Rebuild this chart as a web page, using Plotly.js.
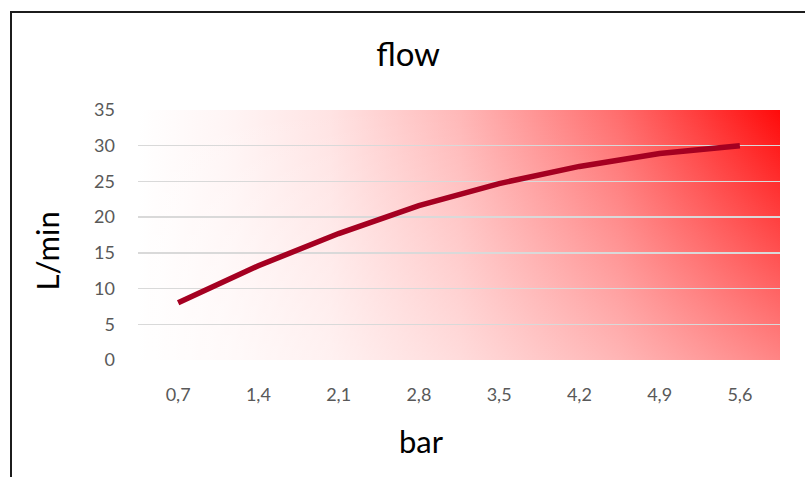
<!DOCTYPE html>
<html>
<head>
<meta charset="utf-8">
<script src="https://cdn.plot.ly/plotly-3.0.1.min.js"></script>
<style>
  html, body { margin: 0; padding: 0; background: #fff; overflow: hidden; }
  #wrap { position: relative; width: 805px; height: 477px; }
  #chart { width: 805px; height: 477px; }
  #frame { position: absolute; left: 10px; top: 11px; width: 900px; height: 600px;
           border: 2px solid #1c1c1c; pointer-events: none; box-sizing: border-box; }
</style>
</head>
<body>
<div id="wrap">
  <div id="chart"></div>
  <div id="frame"></div>
</div>
<script>
// ---- data ----
const pressureBar = ['0,7', '1,4', '2,1', '2,8', '3,5', '4,2', '4,9', '5,6'];
const flowLmin = [8, 13.2, 17.7, 21.6, 24.7, 27.1, 28.9, 30];
const yTicks = [0, 5, 10, 15, 20, 25, 30, 35];

const FONT = 'Lato, "Noto Sans", "Open Sans", sans-serif';

// gradient background for the plot area (white -> red toward the top-right)
const gradSvg =
  '<svg xmlns="http://www.w3.org/2000/svg" width="642" height="250" viewBox="0 0 642 250" preserveAspectRatio="none">' +
  '<defs>' +
  '<linearGradient id="h" x1="0" y1="0" x2="1" y2="0">' +
  '<stop offset="0" stop-color="#ffffff"/>' +
  '<stop offset="0.15" stop-color="#fff4f4"/>' +
  '<stop offset="0.3" stop-color="#ffe3e3"/>' +
  '<stop offset="0.5" stop-color="#ffb8b8"/>' +
  '<stop offset="0.75" stop-color="#ff6c6c"/>' +
  '<stop offset="1" stop-color="#ff0a0a"/>' +
  '</linearGradient>' +
  '<linearGradient id="v" x1="0" y1="0" x2="0" y2="1">' +
  '<stop offset="0" stop-color="#ffffff" stop-opacity="0"/>' +
  '<stop offset="1" stop-color="#ffffff" stop-opacity="0.5"/>' +
  '</linearGradient>' +
  '</defs>' +
  '<rect x="0" y="0" width="642" height="250" fill="url(#h)"/>' +
  '<rect x="0" y="0" width="642" height="250" fill="url(#v)"/></svg>';
const gradUri = 'data:image/svg+xml;charset=utf-8,' + encodeURIComponent(gradSvg);

const traces = [{
  type: 'scatter',
  mode: 'lines',
  x: pressureBar,
  y: flowLmin,
  line: { color: '#A50021', width: 5.5, shape: 'linear' },
  hoverinfo: 'x+y'
}];

const layout = {
  width: 805,
  height: 477,
  margin: { l: 138, r: 25, t: 110, b: 117 },
  paper_bgcolor: '#ffffff',
  plot_bgcolor: 'rgba(0,0,0,0)',
  showlegend: false,
  font: { family: FONT, color: '#595959', size: 18 },
  title: {
    text: 'flow',
    font: { family: FONT, size: 33, color: '#000000' },
    x: 0.507, xanchor: 'center',
    y: 0.885, yanchor: 'middle', yref: 'container'
  },
  xaxis: {
    type: 'category',
    range: [-0.5, pressureBar.length - 0.5],
    showgrid: false,
    zeroline: false,
    showline: false,
    ticks: '',
    ticklabelstandoff: 22,
    tickfont: { family: FONT, size: 18, color: '#595959' }
  },
  yaxis: {
    range: [0, 35],
    tickvals: yTicks,
    ticktext: yTicks.map(String),
    showgrid: true,
    gridcolor: '#D9D9D9',
    gridwidth: 1.5,
    zeroline: false,
    showline: false,
    ticks: '',
    ticklabelstandoff: 22,
    tickfont: { family: FONT, size: 18, color: '#595959' }
  },
  annotations: [
    {
      text: 'L/min', textangle: -90, showarrow: false,
      xref: 'paper', yref: 'paper', x: -0.141, y: 0.436,
      xanchor: 'center', yanchor: 'middle',
      font: { family: FONT, size: 31, color: '#000000' }
    },
    {
      text: 'bar', showarrow: false,
      xref: 'paper', yref: 'paper', x: 0.441, y: -0.325,
      xanchor: 'center', yanchor: 'middle',
      font: { family: FONT, size: 31, color: '#000000' }
    }
  ],
  images: [{
    source: gradUri,
    xref: 'paper', yref: 'paper',
    x: 0, y: 1, sizex: 1, sizey: 1,
    xanchor: 'left', yanchor: 'top',
    sizing: 'stretch',
    layer: 'below'
  }]
};

Plotly.newPlot('chart', traces, layout, { displayModeBar: false, staticPlot: true });
</script>
</body>
</html>
